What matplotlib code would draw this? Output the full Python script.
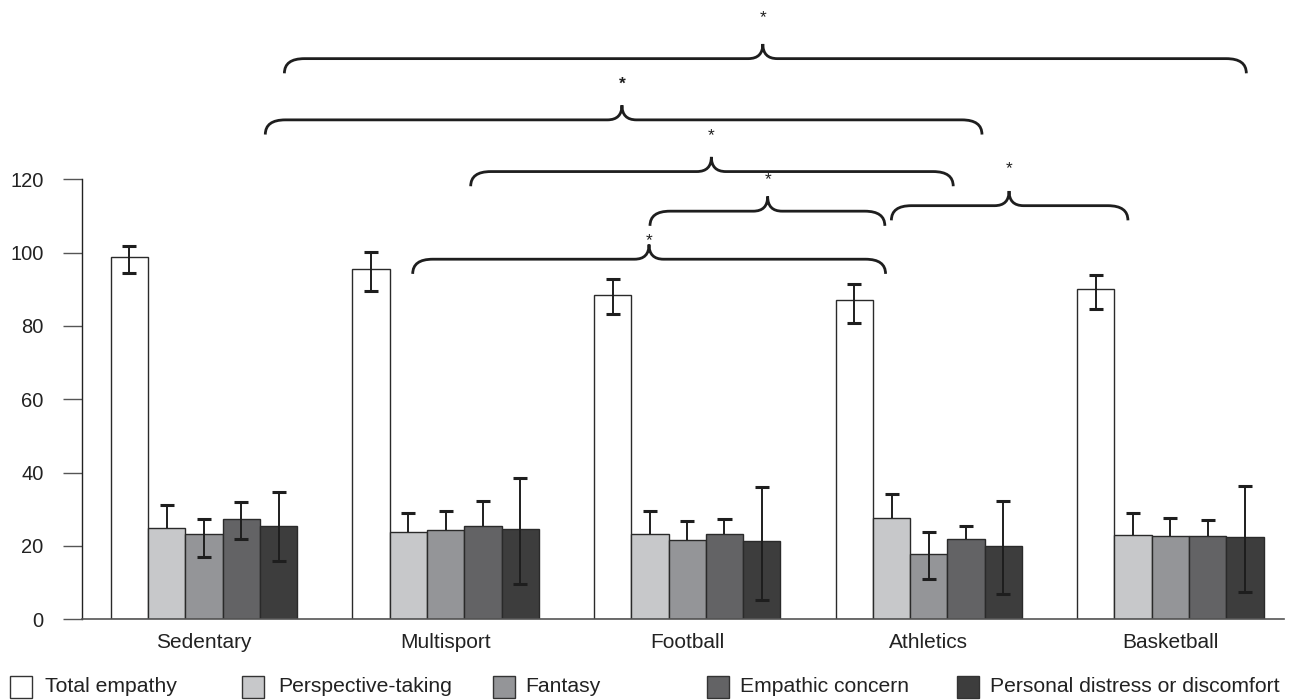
import matplotlib.pyplot as plt
import numpy as np
from matplotlib.patches import PathPatch, Rectangle
from matplotlib.path import Path

plt.rcParams['font.family'] = ['Liberation Sans', 'DejaVu Sans']

groups = ["Sedentary", "Multisport", "Football", "Athletics", "Basketball"]
series = ["Total empathy", "Perspective-taking", "Fantasy", "Empathic concern",
          "Personal distress or discomfort"]
colors = ["#ffffff", "#c7c8ca", "#949598", "#636365", "#3d3d3d"]

total = [98.7, 95.5, 88.4, 87.0, 90.1]
total_hi = [3.1, 4.7, 4.3, 4.4, 3.9]
total_lo = [4.2, 6.0, 5.2, 6.3, 5.4]

perspective = [24.9, 23.9, 23.3, 27.5, 23.0]
perspective_hi = [6.3, 5.2, 6.3, 6.6, 6.0]
perspective_lo = [0, 0, 0, 0, 0]

fantasy = [23.2, 24.3, 21.7, 17.9, 22.8]
fantasy_hi = [4.2, 5.2, 5.2, 5.9, 4.9]
fantasy_lo = [6.1, 0, 0, 6.8, 0]

concern = [27.4, 25.4, 23.3, 21.9, 22.6]
concern_hi = [4.7, 6.8, 4.1, 3.5, 4.5]
concern_lo = [5.6, 0, 0, 0, 0]

distress = [25.4, 24.6, 21.4, 19.9, 22.4]
distress_hi = [9.4, 14.0, 14.8, 12.3, 14.0]
distress_lo = [9.6, 14.9, 16.1, 13.1, 15.0]

values = [total, perspective, fantasy, concern, distress]
err_hi = [total_hi, perspective_hi, fantasy_hi, concern_hi, distress_hi]
err_lo = [total_lo, perspective_lo, fantasy_lo, concern_lo, distress_lo]

# significance braces: left end, right end, tip, line level, star level, bold star
brace_left = [0.333, 0.254, 1.104, 2.845, 1.846, 0.864]
brace_right = [4.314, 3.220, 3.101, 3.824, 2.818, 2.821]
brace_tip = [2.313, 1.730, 2.100, 3.332, 2.333, 1.842]
brace_y = [152.9, 136.2, 122.1, 112.8, 111.3, 98.2]
star_y = [164.2, 145.9, 131.8, 123.0, 120.0, 103.4]
star_bold = [False, True, False, False, False, False]

fig = plt.figure(figsize=(12.94, 7.0), dpi=100)
ax = fig.add_axes([0.0631, 0.1153, 0.9291, 0.6286])

x = np.arange(len(groups))
w = 0.1544
cap = 0.029
for k in range(len(series)):
    pos = x + (k - 2) * w
    v = np.array(values[k])
    hi = v + np.array(err_hi[k])
    lo = v - np.array(err_lo[k])
    ax.bar(pos, v, width=w, color=colors[k], edgecolor="#2a2a2a",
           linewidth=1.0, zorder=2)
    # whiskers; the lower arm is only drawn where it was reported
    ax.vlines(pos, lo, hi, color="#1e1e1e", linewidth=1.4, zorder=3)
    ax.hlines(hi, pos - cap, pos + cap, color="#1e1e1e", linewidth=2.2, zorder=3)
    has_lo = np.array(err_lo[k]) > 0
    ax.hlines(lo[has_lo], pos[has_lo] - cap, pos[has_lo] + cap,
              color="#1e1e1e", linewidth=2.2, zorder=3)


def brace(ax, x0, x1, xt, y, hx=0.083, hy=4.0, tx=0.06, ty=4.0):
    verts = [(x0, y - hy), (x0, y), (x0 + hx, y),
             (xt - tx, y), (xt, y), (xt, y + ty),
             (xt, y), (xt + tx, y),
             (x1 - hx, y), (x1, y), (x1, y - hy)]
    codes = [Path.MOVETO, Path.CURVE3, Path.CURVE3,
             Path.LINETO, Path.CURVE3, Path.CURVE3,
             Path.CURVE3, Path.CURVE3,
             Path.LINETO, Path.CURVE3, Path.CURVE3]
    ax.add_patch(PathPatch(Path(verts, codes), facecolor="none",
                           edgecolor="#1e1e1e", linewidth=2.0,
                           clip_on=False, capstyle="butt"))


for i in range(len(brace_left)):
    brace(ax, brace_left[i], brace_right[i], brace_tip[i], brace_y[i])
    ax.text(brace_tip[i], star_y[i], "*", ha="center", va="center",
            fontsize=12.5, fontweight="bold" if star_bold[i] else "normal",
            color="#1e1e1e", clip_on=False)

ax.set_xlim(-0.506, 4.4695)
ax.set_ylim(0, 120)
ax.set_yticks([0, 20, 40, 60, 80, 100, 120])
ax.set_xticks(x)
ax.set_xticklabels(groups, fontsize=15, color="#222222")
ax.tick_params(axis="x", length=0, pad=10)
ax.tick_params(axis="y", length=13.5, width=1.0, color="#555555",
               labelsize=14.5, labelcolor="#222222", pad=14)
for side in ["top", "right"]:
    ax.spines[side].set_visible(False)
ax.spines["left"].set_color("#222222")
ax.spines["left"].set_linewidth(1.0)
ax.spines["bottom"].set_color("#555555")
ax.spines["bottom"].set_linewidth(1.2)

# legend row along the bottom edge
legend_box_x = [10, 242, 493, 707, 957]
legend_text_x = [45, 278, 525, 740, 990]
W, H = 1294, 700
for k in range(len(series)):
    fig.patches.append(Rectangle((legend_box_x[k] / W, 2 / H), 22 / W, 22 / H,
                                 transform=fig.transFigure, facecolor=colors[k],
                                 edgecolor="#333333", linewidth=1.0))
    fig.text(legend_text_x[k] / W, 14 / H, series[k], fontsize=15.2,
             color="#222222", ha="left", va="center")

fig.savefig("out.png", dpi=100)
